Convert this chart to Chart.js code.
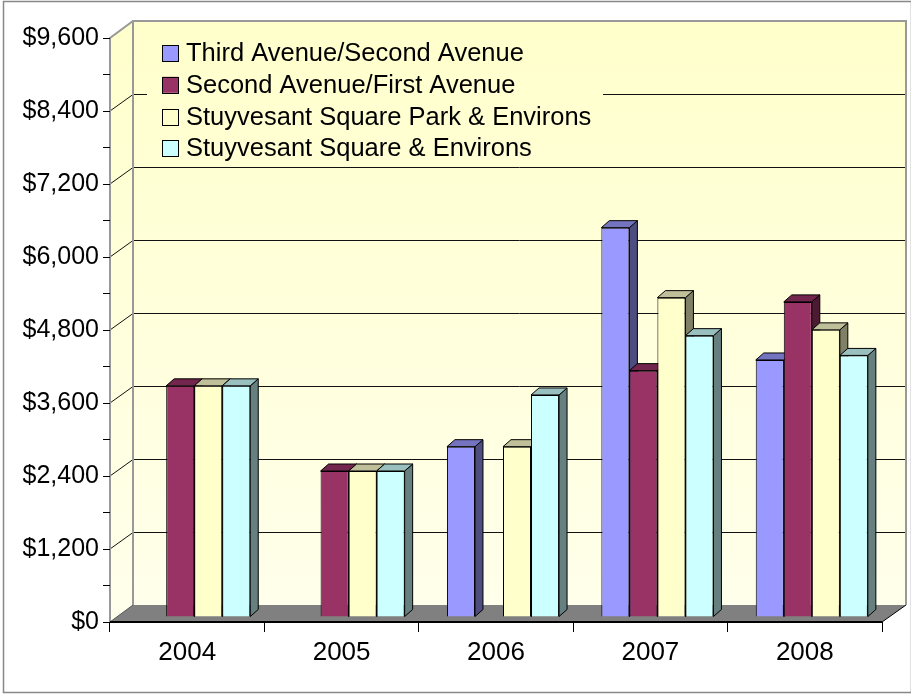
<!DOCTYPE html>
<html>
<head>
<meta charset="utf-8">
<script src="https://cdn.jsdelivr.net/npm/chart.js@4"></script>
<style>
  html, body { margin: 0; padding: 0; background: #fff; }
</style>
</head>
<body>
<canvas id="myChart" width="911" height="696"></canvas>
<script>
// datos
let years = ["2004", "2005", "2006", "2007", "2008"];
let thirdSecond = [null, null, 2800, 6400, 4225];
let secondFirst = [3800, 2400, null, 4050, 5180];
let parkEnvirons = [3800, 2400, 2800, 5250, 4720];
let squareEnvirons = [3800, 2400, 3650, 4625, 4300];
let yMax = 9600;
let yStep = 1200;

let font = "'Liberation Sans', Arial, sans-serif";
let depth = { dx: 23, dy: 17 };   // fondo de las paredes
let barDepth = { dx: 8, dy: 7 };  // fondo de cada barra
let barShift = { dx: 7, dy: 5 };  // las barras estan un poco detras del frente

function wallGradient(ctx, top, bottom) {
    let g = ctx.createLinearGradient(0, top, 0, bottom);
    g.addColorStop(0, '#FFFFCC');
    g.addColorStop(1, '#FFFFEC');
    return g;
}

// paredes, piso, lineas de la cuadricula y leyenda
let backdrop = {
    id: 'backdrop',
    beforeDraw(chart) {
        let ctx = chart.ctx;
        let a = chart.chartArea;
        let ys = chart.scales.y;
        let yF = v => ys.getPixelForValue(v);
        let yB = v => ys.getPixelForValue(v) - depth.dy;
        let xL = a.left + depth.dx;
        let xR = a.right + depth.dx + 1;
        ctx.save();
        ctx.fillStyle = '#fff';
        ctx.fillRect(0, 0, chart.width, chart.height);
        ctx.strokeStyle = '#888';
        ctx.lineWidth = 1.5;
        ctx.strokeRect(3.5, 1.5, 908, 691);

        let grad = wallGradient(ctx, yB(yMax), yF(0));
        // pared lateral
        ctx.fillStyle = grad;
        ctx.beginPath();
        ctx.moveTo(a.left, yF(yMax));
        ctx.lineTo(xL, yB(yMax));
        ctx.lineTo(xL, yB(0));
        ctx.lineTo(a.left, yF(0));
        ctx.closePath();
        ctx.fill();
        // pared de atras
        ctx.fillRect(xL, yB(yMax), xR - xL, yB(0) - yB(yMax));

        // cuadricula
        ctx.strokeStyle = '#111';
        ctx.lineWidth = 1;
        for (let v = yStep; v < yMax; v += yStep) {
            let yb = Math.round(yB(v)) + 0.5;
            ctx.beginPath();
            ctx.moveTo(a.left, yF(v));
            ctx.lineTo(xL, yb);
            ctx.lineTo(xR, yb);
            ctx.stroke();
        }

        // piso
        ctx.fillStyle = '#808080';
        ctx.beginPath();
        ctx.moveTo(a.left, yF(0));
        ctx.lineTo(a.right, yF(0));
        ctx.lineTo(xR, yB(0));
        ctx.lineTo(xL, yB(0));
        ctx.closePath();
        ctx.fill();
        ctx.strokeStyle = '#555';
        ctx.beginPath();
        ctx.moveTo(a.left, yF(0));
        ctx.lineTo(xL, yB(0));
        ctx.stroke();
        ctx.strokeStyle = '#000';
        ctx.beginPath();
        ctx.moveTo(a.right, yF(0));
        ctx.lineTo(xR, yB(0));
        ctx.stroke();

        // bordes de las paredes
        ctx.strokeStyle = '#999';
        ctx.lineWidth = 2;
        ctx.beginPath();
        ctx.moveTo(a.left, yF(0));
        ctx.lineTo(a.left, yF(yMax));
        ctx.lineTo(xL, yB(yMax));
        ctx.lineTo(xR, yB(yMax));
        ctx.lineTo(xR, yB(0));
        ctx.moveTo(xL, yB(yMax));
        ctx.lineTo(xL, yB(0));
        ctx.stroke();

        // eje x
        ctx.strokeStyle = '#000';
        ctx.lineWidth = 2;
        ctx.beginPath();
        ctx.moveTo(a.left, yF(0));
        ctx.lineTo(a.right, yF(0));
        ctx.stroke();

        // leyenda
        ctx.fillStyle = grad;
        ctx.fillRect(147, 27, 456, 137);
        ctx.font = '25.5px ' + font;
        ctx.textBaseline = 'middle';
        chart.data.datasets.forEach((ds, i) => {
            let cy = 53 + i * 31.8;
            ctx.fillStyle = ds.backgroundColor;
            ctx.fillRect(162.5, cy - 8, 16, 16);
            ctx.strokeStyle = '#000';
            ctx.lineWidth = 1;
            ctx.strokeRect(162.5, Math.round(cy - 8) + 0.5, 16, 16);
            ctx.fillStyle = '#000';
            ctx.fillText(ds.label, 186, cy + 1);
        });
        ctx.restore();
    },
    beforeDatasetsDraw(chart) {
        let ctx = chart.ctx;
        ctx.save();
        ctx.translate(barShift.dx, -barShift.dy);
        // caras de arriba y del lado, de izquierda a derecha
        years.forEach((y, i) => {
            chart.data.datasets.forEach((ds, d) => {
                if (ds.data[i] == null) return;
                let el = chart.getDatasetMeta(d).data[i];
                let p = el.getProps(['x', 'y', 'base', 'width'], true);
                let l = p.x - p.width / 2, r = p.x + p.width / 2;
                ctx.lineWidth = 1;
                ctx.strokeStyle = '#000';
                ctx.fillStyle = ds.sideColor;
                ctx.beginPath();
                ctx.moveTo(r, p.y);
                ctx.lineTo(r + barDepth.dx, p.y - barDepth.dy);
                ctx.lineTo(r + barDepth.dx, p.base - barDepth.dy);
                ctx.lineTo(r, p.base);
                ctx.closePath();
                ctx.fill();
                ctx.stroke();
                ctx.fillStyle = ds.topColor;
                ctx.beginPath();
                ctx.moveTo(l, p.y);
                ctx.lineTo(l + barDepth.dx, p.y - barDepth.dy);
                ctx.lineTo(r + barDepth.dx, p.y - barDepth.dy);
                ctx.lineTo(r, p.y);
                ctx.closePath();
                ctx.fill();
                ctx.stroke();
            });
        });
    },
    afterDatasetsDraw(chart) {
        chart.ctx.restore();
    }
};

let ctx = document.getElementById('myChart').getContext('2d');
let chart = new Chart(ctx, {
    type: 'bar',
    data: {
        labels: years,
        datasets: [{
            label: "Third Avenue/Second Avenue",
            backgroundColor: '#9999FF',
            topColor: '#7373BF',
            sideColor: '#4D4D80',
            data: thirdSecond,
        }, {
            label: "Second Avenue/First Avenue",
            backgroundColor: '#993366',
            topColor: '#73264D',
            sideColor: '#4D1A33',
            data: secondFirst,
        }, {
            label: "Stuyvesant Square Park & Environs",
            backgroundColor: '#FFFFCC',
            topColor: '#BFBF99',
            sideColor: '#808066',
            data: parkEnvirons,
        }, {
            label: "Stuyvesant Square & Environs",
            backgroundColor: '#CCFFFF',
            topColor: '#99BFBF',
            sideColor: '#668080',
            data: squareEnvirons,
        }]
    },
    options: {
        responsive: false,
        animation: false,
        devicePixelRatio: 1,
        layout: { padding: { top: 38, right: 29, left: 0, bottom: 0 } },
        datasets: {
            bar: { categoryPercentage: 0.726, barPercentage: 1, borderWidth: 1, borderColor: '#000' }
        },
        plugins: {
            legend: { display: false },
            tooltip: { enabled: false }
        },
        scales: {
            x: {
                grid: { display: true, drawOnChartArea: false, offset: true, tickLength: 10, color: '#000' },
                border: { display: false },
                ticks: { color: '#000', font: { family: font, size: 26 }, padding: 5 },
                afterFit(s) { s.height = 74; }
            },
            y: {
                min: 0,
                max: yMax,
                grid: { drawOnChartArea: false, tickLength: 7, color: '#000' },
                border: { display: false },
                ticks: {
                    stepSize: yStep / 2,
                    autoSkip: false,
                    color: '#000',
                    padding: 4,
                    font: { family: font, size: 25 },
                    callback: v => v % yStep === 0 ? '$' + v.toLocaleString('en-US') : ''
                },
                afterFit(s) { s.width = 110; }
            }
        }
    },
    plugins: [backdrop]
});
</script>
</body>
</html>
